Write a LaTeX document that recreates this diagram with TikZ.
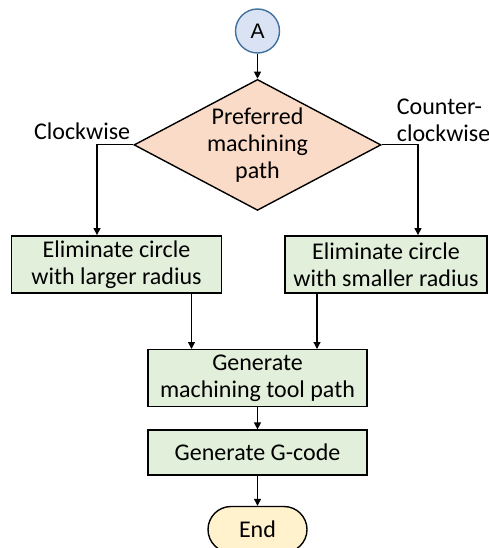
\documentclass[tikz,border=0pt]{standalone}
\usepackage{fontspec}
\setmainfont{Carlito}
\newfontfamily\arialfont{Liberation Sans}
\usetikzlibrary{positioning, arrows.meta, shapes.geometric}
\definecolor{connblue}{HTML}{DAE3F3}
\definecolor{connedge}{HTML}{41719C}
\definecolor{decpeach}{HTML}{FADBC8}
\definecolor{procgreen}{HTML}{E2EFDA}
\definecolor{endyellow}{HTML}{FFF2CC}

\tikzset{
    txt/.style={font=\fontsize{24}{27}\selectfont},
    proc/.style={draw, rectangle, txt, fill=procgreen, line width=1.4pt, align=center, inner sep=0pt, minimum height=57pt},
    decision/.style={draw, diamond, txt, fill=decpeach, line width=1.4pt, align=center, inner sep=0pt, aspect=1.9, minimum width=247pt, minimum height=131pt},
    connector/.style={draw=connedge, circle, fill=connblue, line width=1.4pt, minimum size=44pt, inner sep=0pt, font=\arialfont\fontsize{21}{24}\selectfont},
    terminal/.style={draw, rectangle, rounded corners=23pt, txt, fill=endyellow, line width=1.4pt, minimum width=99pt, minimum height=46pt, inner sep=0pt},
    arr/.style={-{Triangle[length=7pt, width=7pt]}, line width=1.2pt}
}

\begin{document}
\begin{tikzpicture}
    \useasboundingbox (0,0) rectangle (489pt,-548pt);

    % Start connector
    \node[connector] (A) at (257.5pt,-31pt) {A};

    % Decision
    \node[decision, below=25pt of A] (pref) {Preferred\\machining\\path};

    % Branches
    \node[proc, minimum width=210pt, below=24pt of pref.south, xshift=-141pt] (cwbox) {Eliminate circle\\with larger radius};
    \node[proc, minimum width=202pt, below=24pt of pref.south, xshift=128.5pt] (ccwbox) {Eliminate circle\\with smaller radius};

    \node[txt, anchor=base east, inner sep=0pt] (cwlabel) at ([xshift=-3pt, yshift=5pt]pref.west) {Clockwise};
    \node[txt, anchor=south west, align=left, inner sep=0pt] (ccwlabel) at ([xshift=15pt, yshift=3pt]pref.east) {Counter-\\clockwise};

    % Merge
    \coordinate (mid) at (cwbox.south -| pref.south);
    \node[proc, minimum width=219pt, below=55.5pt of mid] (gen) {Generate\\machining tool path};
    \node[proc, minimum width=219pt, minimum height=45pt, below=22pt of gen] (gcode) {Generate G-code};

    % End
    \node[terminal, below=30pt of gcode] (stop) {End};

    % Arrows
    \draw[arr] (A) -- (pref);
    \draw[arr] (pref.west) -| ([xshift=-19.5pt]cwbox.north);
    \draw[arr] (pref.east) -| ([xshift=32pt]ccwbox.north);
    \draw[arr] ([xshift=75pt]cwbox.south) -- ([xshift=75pt]cwbox.south |- gen.north);
    \draw[arr] ([xshift=-69pt]ccwbox.south) -- ([xshift=-69pt]ccwbox.south |- gen.north);
    \draw[arr] (gen) -- (gcode);
    \draw[arr] (gcode) -- (stop);
\end{tikzpicture}
\end{document}
